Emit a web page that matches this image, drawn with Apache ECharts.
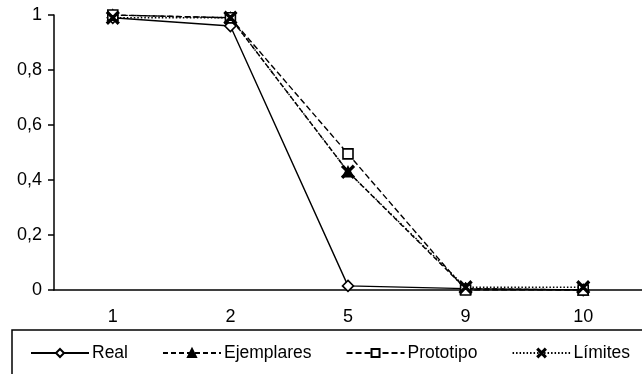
<!DOCTYPE html>
<html>
<head>
<meta charset="utf-8">
<title>Chart</title>
<script src="https://cdn.jsdelivr.net/npm/echarts@6/dist/echarts.min.js"></script>
<style>
    html, body { margin: 0; padding: 0; background: #fff; }
    #chart { width: 642px; height: 374px; }
</style>
</head>
<body>
<div id="chart"></div>
<script>
    // datos
    var categorias = ['1', '2', '5', '9', '10'];
    var real = [0.99, 0.96, 0.015, 0.005, 0.0];
    var ejemplares = [1.0, 0.99, 0.43, 0.005, 0.0];
    var prototipo = [1.0, 0.99, 0.495, 0.0, 0.0];
    var limites = [0.99, 0.99, 0.43, 0.01, 0.01];

    var cruz = 'path://M0,1L1,0L5,4L9,0L10,1L6,5L10,9L9,10L5,6L1,10L0,9L4,5Z';
    var fuente = 'Liberation Sans, Arial, sans-serif';

    function serie(nombre, datos, tipo, simbolo, relleno, tam) {
        return {
            name: nombre,
            type: 'line',
            data: datos,
            symbol: simbolo,
            symbolSize: tam,
            showAllSymbol: true,
            lineStyle: { color: '#000', width: 1.4, type: tipo },
            itemStyle: { color: relleno, borderColor: '#000', borderWidth: 1.6 },
            emphasis: { disabled: true },
            animation: false
        };
    }

    var chart = echarts.init(document.getElementById('chart'));
    chart.setOption({
        animation: false,
        textStyle: { fontFamily: fuente },
        grid: { left: 54, top: 15, width: 595, height: 275 },
        graphic: [{
            type: 'rect',
            shape: { x: 12, y: 330, width: 640, height: 60 },
            style: { fill: 'none', stroke: '#000', lineWidth: 1.5 }
        }],
        legend: {
            left: 25,
            top: 339,
            itemWidth: 58,
            itemHeight: 10,
            itemGap: 34,
            textStyle: { fontSize: 17.5, color: '#000', fontFamily: fuente, padding: [0, 0, 0, -2] },
            data: ['Real', 'Ejemplares', 'Prototipo', 'Límites']
        },
        xAxis: {
            type: 'category',
            data: categorias,
            boundaryGap: true,
            axisLine: { lineStyle: { color: '#000', width: 1.5 } },
            axisTick: { length: 6, lineStyle: { color: '#000', width: 1.5 } },
            axisLabel: { color: '#000', fontSize: 18, margin: 18 }
        },
        yAxis: {
            type: 'value',
            min: 0,
            max: 1,
            interval: 0.2,
            splitLine: { show: false },
            axisLine: { show: true, lineStyle: { color: '#000', width: 1.5 } },
            axisTick: { show: true, length: 6, lineStyle: { color: '#000', width: 1.5 } },
            axisLabel: {
                color: '#000', fontSize: 18, margin: 12,
                formatter: function (v) { return String(+v.toFixed(1)).replace('.', ','); }
            }
        },
        series: [
            serie('Real', real, 'solid', 'diamond', '#fff', 11),
            serie('Ejemplares', ejemplares, [5, 3], 'triangle', '#000', 10),
            serie('Prototipo', prototipo, [6, 3], 'rect', '#fff', 10),
            serie('Límites', limites, [1.5, 2], cruz, '#000', 12)
        ]
    });
</script>
</body>
</html>
